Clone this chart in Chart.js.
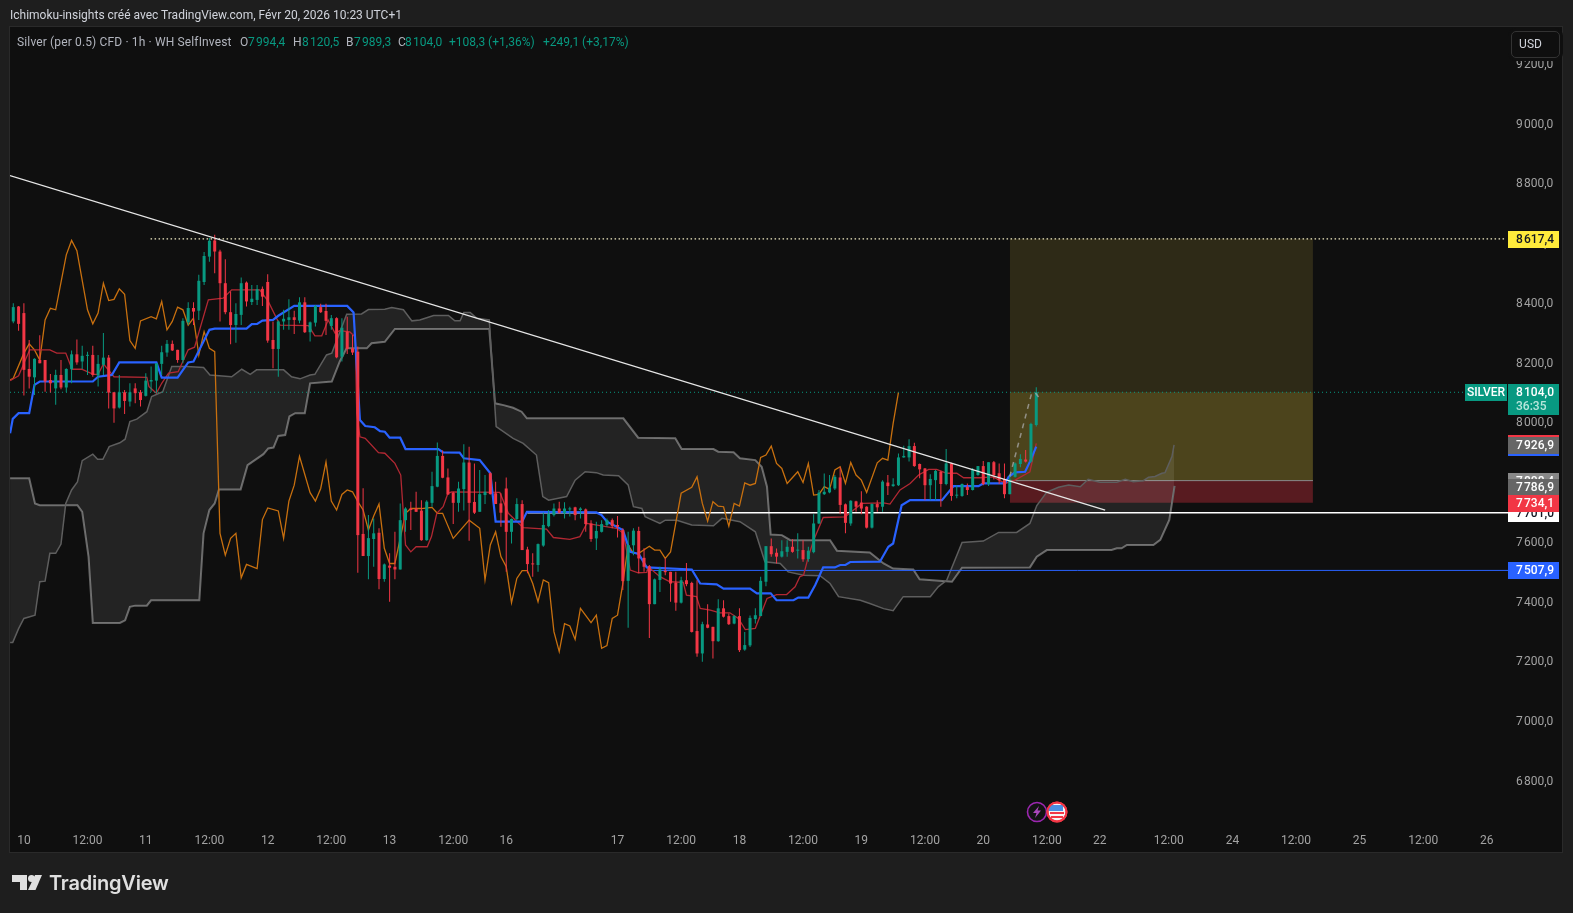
<!DOCTYPE html>
<html>
<head>
<meta charset="utf-8">
<title>Silver (per 0.5) CFD</title>
<script src="https://cdn.jsdelivr.net/npm/chart.js@4/dist/chart.umd.min.js"></script>
<style>
html, body { margin: 0; padding: 0; background: #1e1e1e; width: 1573px; height: 913px; overflow: hidden; }
canvas { position: absolute; left: 0; top: 0; }
.txt { position: absolute; white-space: nowrap; font: 12px Roboto, sans-serif; line-height: 16px; }
.g { color: #b2b5be; }
.v { color: #089981; }
#usd { position: absolute; left: 1511px; top: 31px; width: 37px; height: 25px; padding-right: 10px; border: 1px solid #333; border-radius: 5px; background: #0f0f0f; box-shadow: 0 0 0 3px #0f0f0f; color: #d1d4dc; font: 12px Roboto, sans-serif; line-height: 25px; text-align: center; }
#logo { position: absolute; left: 49px; top: 868px; color: #e0e0e0; font: 600 20px Inter, sans-serif; line-height: 30px; letter-spacing: -0.2px; }
svg { position: absolute; }
</style>
</head>
<body>
<canvas id="canvas" width="1573" height="913"></canvas>

<span class="txt" style="left:10px;top:7px;color:#d1d4dc">Ichimoku-insights créé avec TradingView.com, Févr 20, 2026 10:23 UTC+1</span>
<span class="txt g" style="left:17px;top:34px;letter-spacing:0.14px">Silver (per 0.5) CFD · 1h · WH SelfInvest</span>
<span class="txt g" style="left:240px;top:34px">O</span><span class="txt v" style="left:248px;top:34px">7&#8202;994,4</span>
<span class="txt g" style="left:293px;top:34px">H</span><span class="txt v" style="left:302px;top:34px">8&#8202;120,5</span>
<span class="txt g" style="left:346px;top:34px">B</span><span class="txt v" style="left:354px;top:34px">7&#8202;989,3</span>
<span class="txt g" style="left:398px;top:34px">C</span><span class="txt v" style="left:405px;top:34px">8&#8202;104,0</span>
<span class="txt v" style="left:449px;top:34px">+108,3 (+1,36%)</span>
<span class="txt v" style="left:543px;top:34px">+249,1 (+3,17%)</span>

<div id="usd">USD</div>

<svg style="left:12px;top:875px" width="30" height="15" viewBox="0 0 30 15">
  <polygon fill="#e0e0e0" points="0,0 15,0 15,15 8,15 8,7 0,7"/>
  <circle fill="#e0e0e0" cx="19.5" cy="3.5" r="3.5"/>
  <polygon fill="#e0e0e0" points="23,0 30,0 23.5,15 16,15"/>
</svg>
<div id="logo">TradingView</div>

<svg style="left:1025px;top:800px" width="44" height="24" viewBox="0 0 44 24">
  <circle cx="12" cy="12" r="9.5" fill="#131313" stroke="#9c27b0" stroke-width="1.6"/>
  <polygon fill="#ab47bc" points="14,6 8,13 11.5,13 10,18 16,10.5 12.5,10.5"/>
  <circle cx="32" cy="12" r="9.5" fill="#f5f5f5" stroke="#f23645" stroke-width="2"/>
  <rect x="25" y="12" width="14" height="2" fill="#f23645"/>
  <rect x="26" y="16" width="12" height="2" fill="#f23645"/>
  <path d="M24 5 h14 v6 h-15z" fill="#4a90e2"/>
  <circle cx="32" cy="12" r="9.5" fill="none" stroke="#f23645" stroke-width="2"/>
</svg>

<script>
// bougies 1h, index = numero de barre
const opens = [8341,8391,8369,8182,8154,8212,8212,8145,8117,8162,8120,8181,8231,8207,8226,8229,8160,8196,8220,8104,
  8053,8104,8073,8117,8104,8092,8140,8143,8199,8237,8266,8246,8212,8338,8386,8377,8473,8558,8612,8575,
  8469,8372,8329,8363,8471,8406,8413,8450,8473,8279,8249,8341,8346,8355,8344,8405,8305,8337,8389,8376,
  8326,8352,8223,8307,8251,8240,7630,7556,7613,7634,7479,7524,7520,7511,7676,7715,7715,7708,7609,7734,
  7788,7891,7819,7768,7734,7780,7869,7737,7704,7760,7833,7766,7732,7782,7637,7680,7730,7578,7531,7526,
  7591,7656,7693,7715,7699,7712,7719,7710,7712,7665,7615,7637,7660,7676,7660,7643,7473,7592,7640,7550,
  7522,7395,7476,7507,7503,7467,7400,7475,7466,7305,7230,7327,7319,7271,7381,7355,7330,7355,7243,7257,
  7345,7355,7470,7589,7567,7554,7570,7587,7574,7576,7546,7569,7665,7763,7769,7782,7819,7729,7665,7739,
  7735,7721,7651,7730,7721,7802,7790,7793,7886,7886,7924,7864,7849,7793,7810,7838,7797,7866,7758,7757,
  7788,7777,7827,7857,7797,7870,7833,7814,7763,7821,7864,7879,7872,7994.4];
const highs = [8402,8393,8402,8279,8218,8295,8212,8165,8179,8212,8184,8244,8281,8260,8240,8260,8229,8302,8229,8104,
  8162,8112,8134,8134,8112,8168,8190,8201,8260,8279,8277,8246,8352,8405,8405,8497,8573,8620,8631,8581,
  8549,8441,8402,8488,8475,8463,8463,8458,8499,8341,8344,8380,8415,8377,8422,8422,8341,8396,8400,8400,
  8363,8355,8352,8357,8296,8257,7783,7693,7682,7649,7531,7565,7637,7732,7719,7738,7771,7743,7743,7838,
  7936,7909,7849,7771,7805,7930,7922,7866,7844,7827,7836,7805,7766,7819,7682,7749,7743,7587,7565,7598,
  7702,7710,7732,7738,7736,7721,7721,7719,7715,7676,7671,7676,7682,7682,7690,7649,7637,7649,7654,7582,
  7526,7481,7520,7548,7503,7503,7487,7533,7470,7475,7336,7395,7319,7411,7408,7364,7358,7381,7302,7357,
  7381,7487,7589,7615,7581,7609,7609,7612,7632,7609,7587,7696,7777,7832,7827,7827,7853,7732,7743,7741,
  7773,7723,7732,7743,7810,7827,7816,7899,7925,7947,7935,7866,7851,7830,7844,7841,7914,7868,7793,7799,
  7799,7851,7857,7874,7870,7874,7866,7866,7829,7869,7897,7911,8002,8120.5];
const lows = [8335,8310,8093,8117,8095,8201,8106,8103,8062,8114,8104,8134,8196,8182,8162,8156,8123,8162,8050,8002,
  8050,8031,8056,8067,8056,8090,8106,8101,8162,8223,8242,8203,8201,8329,8329,8346,8463,8541,8502,8341,
  8365,8265,8270,8329,8391,8396,8396,8393,8270,8184,8156,8313,8313,8299,8335,8302,8274,8324,8369,8296,
  8313,8218,8207,8232,8229,7500,7556,7478,7520,7445,7470,7403,7478,7511,7637,7643,7704,7607,7607,7721,
  7786,7816,7760,7663,7704,7708,7607,7697,7704,7730,7762,7730,7654,7503,7598,7676,7576,7498,7487,7503,
  7587,7652,7688,7699,7682,7688,7676,7682,7637,7604,7576,7635,7654,7649,7618,7442,7316,7559,7498,7503,
  7282,7395,7436,7492,7403,7373,7397,7455,7300,7219,7202,7314,7213,7269,7350,7325,7328,7235,7239,7252,
  7330,7355,7455,7554,7531,7551,7554,7567,7548,7537,7537,7565,7663,7760,7766,7777,7696,7632,7657,7704,
  7696,7648,7648,7704,7704,7760,7788,7790,7885,7872,7855,7816,7743,7743,7743,7721,7793,7741,7749,7754,
  7760,7775,7825,7793,7790,7812,7797,7749,7763,7819,7853,7869,7869,7989.3];
const closes = [8389,8333,8179,8156,8216,8201,8140,8134,8162,8120,8182,8231,8204,8226,8229,8162,8199,8220,8103,8050,
  8104,8075,8104,8101,8078,8143,8145,8201,8238,8266,8244,8212,8343,8386,8374,8477,8560,8611,8575,8469,
  8372,8329,8366,8469,8408,8417,8449,8424,8277,8249,8341,8350,8355,8346,8405,8305,8338,8393,8372,8343,
  8352,8221,8320,8249,8237,7626,7556,7616,7632,7479,7528,7517,7511,7676,7715,7710,7704,7609,7738,7790,
  7891,7818,7762,7734,7782,7869,7734,7701,7763,7771,7763,7730,7701,7637,7680,7730,7576,7529,7528,7596,
  7660,7697,7715,7701,7715,7715,7693,7715,7663,7613,7640,7663,7676,7656,7654,7472,7593,7641,7548,7520,
  7395,7478,7511,7502,7464,7400,7475,7462,7302,7230,7328,7316,7271,7381,7353,7328,7355,7241,7258,7349,
  7358,7473,7589,7562,7554,7572,7587,7570,7576,7545,7574,7665,7768,7771,7785,7821,7727,7667,7741,7721,
  7715,7651,7730,7719,7805,7790,7796,7886,7891,7924,7857,7846,7793,7814,7841,7797,7866,7757,7760,7797,
  7777,7844,7857,7797,7870,7827,7810,7763,7812,7866,7881,7872,7998,8104];

// ichimoku : [barre, prix]
const kijun = [[-0.6,7967],[-0.1,8015],[1,8034],[3,8034],[4,8129],[5,8140],[15,8140],[16,8156],[18.6,8162],[20,8204],[27,8204],[28,8153],[31,8153],[33,8204],[34,8207],[37,8313],[38,8317],[44,8317],[45,8332],[46,8333],[47,8344],[49,8346],[50,8360],[53,8393],[63,8393],[64.2,8371],[65.4,8011],[66.4,7991],[68.2,7987],[69.2,7974],[70.1,7972],[71,7952],[73,7952],[74,7914],[80.2,7914],[81.1,7903],[84.2,7902],[85,7883],[88,7877],[90,7833],[91,7671],[96,7671],[96.9,7704],[110,7702],[111,7693],[112,7671],[115,7643],[116.4,7570],[118,7563],[119.5,7518],[128,7511],[129.6,7464],[132.7,7461],[134,7447],[139,7447],[140.3,7431],[142.9,7431],[144,7408],[147.2,7408],[148.1,7417],[150,7417],[151.3,7459],[152.8,7518],[155,7518],[156,7526],[157,7526],[157.9,7536],[163.5,7537],[165.1,7587],[166,7598],[167.6,7726],[169.2,7743],[175.2,7743],[177.4,7790],[182.1,7790],[183,7799],[187.1,7799],[187.8,7821],[189,7836],[190.9,7838],[191.8,7872],[193,7922]];
const tenkan = [[-0.6,8143],[1,8159],[3.1,8246],[6.9,8246],[8.2,8235],[9.9,8235],[11.1,8181],[12.9,8181],[15.1,8164],[16,8164],[17,8199],[19,8156],[25.2,8154],[25.6,8123],[27,8101],[28,8134],[29.3,8168],[31.1,8173],[33,8246],[34.2,8255],[36.8,8413],[39.6,8419],[41.2,8447],[46.5,8447],[48.1,8408],[50.3,8329],[55.7,8327],[56.9,8293],[58.2,8293],[59.4,8346],[60.7,8302],[61.6,8310],[63.5,8306],[64.5,8290],[64.8,8034],[65.4,7955],[66.4,7950],[68.9,7902],[70.1,7900],[72,7866],[73.1,7827],[74,7593],[75,7570],[76,7587],[78.1,7587],[78.9,7621],[79.9,7699],[81.1,7721],[82,7766],[82.7,7771],[91.8,7769],[93.4,7699],[96.2,7651],[100.6,7646],[101.9,7618],[105,7612],[106.9,7621],[108.2,7665],[113.8,7649],[115.1,7632],[116.4,7509],[117.9,7500],[119.5,7501],[119.8,7520],[122,7487],[123.9,7470],[126.4,7468],[127,7425],[128.9,7420],[129.6,7381],[131.5,7375],[133.3,7366],[135.2,7366],[136.8,7347],[138.1,7310],[140,7314],[141.2,7369],[142.2,7414],[144,7427],[145.9,7427],[147.5,7453],[148.4,7487],[149.1,7492],[150,7554],[151,7609],[152.8,7685],[156.9,7687],[160.1,7732],[164.2,7734],[165.4,7730],[167.3,7777],[169.2,7799],[170.8,7827],[172.7,7846],[174.2,7846],[176.1,7833],[178,7833],[179.3,7818],[182.4,7818],[184.9,7821],[187.1,7799],[189,7810],[191.8,7838],[193,7933]];
const chikou = [[-0.6,8145],[0,8151],[2,8235],[3,8266],[4,8246],[5,8212],[6,8346],[7,8385],[8,8380],[10,8564],[11,8612],[12,8578],[14,8380],[15,8333],[16,8369],[17,8469],[18,8411],[19,8415],[20,8450],[21,8432],[22,8277],[23,8251],[24,8343],[26,8357],[27,8350],[28,8408],[29,8313],[30,8341],[31,8389],[32,8380],[33,8329],[34,8352],[35,8229],[36,8307],[37,8251],[38,8240],[39,7632],[40,7559],[41,7615],[42,7632],[43,7483],[44,7528],[46,7514],[47,7678],[48,7717],[50,7707],[51,7615],[52,7740],[53,7793],[54,7890],[56,7768],[57,7740],[58,7782],[59,7871],[60,7740],[61,7710],[62,7762],[63,7777],[64,7771],[65,7738],[66,7710],[67,7643],[68,7690],[69,7730],[70,7582],[71,7531],[72,7531],[74,7699],[75,7715],[77,7715],[79,7719],[80,7699],[81,7699],[83,7615],[86,7676],[88,7649],[89,7476],[90,7593],[91,7637],[92,7554],[93,7520],[94,7400],[95,7481],[96,7507],[97,7507],[98,7464],[99,7403],[100,7476],[101,7467],[102,7303],[103,7236],[104,7330],[105,7322],[106,7277],[107,7381],[109,7333],[110,7358],[111,7247],[112,7256],[113,7347],[114,7358],[115,7464],[116,7593],[117,7565],[118,7565],[120,7589],[121,7576],[122,7576],[123,7548],[124,7570],[126,7766],[128,7786],[129,7821],[130,7732],[131,7673],[132,7738],[133,7723],[134,7721],[135,7656],[136,7732],[137,7723],[138,7801],[139,7793],[140,7799],[141,7886],[142,7894],[143,7924],[144,7866],[145,7849],[146,7799],[148,7838],[149,7802],[150,7866],[151,7760],[152,7762],[153,7788],[154,7779],[155,7844],[156,7855],[157,7799],[158,7869],[159,7827],[160,7810],[161,7769],[163,7868],[164,7883],[165,7877],[166,8000],[167,8104]];
const senkouA = [[-0.6,7267],[-0.1,7267],[1,7313],[2,7347],[4.1,7358],[5,7470],[6,7472],[6.9,7565],[8,7565],[9,7596],[9.9,7732],[11,7777],[12.1,7804],[13,7875],[15,7897],[15.9,7880],[16.9,7880],[18.1,7922],[20.1,7935],[21.1,7947],[22,8006],[23.3,8014],[25.2,8039],[26.1,8090],[28.2,8106],[29.9,8190],[32.7,8190],[35.9,8187],[37.1,8162],[41.2,8156],[43.1,8181],[44.7,8164],[45.9,8179],[51,8179],[52.5,8156],[54.1,8149],[56,8162],[56.9,8164],[59.1,8229],[60.1,8235],[62.9,8365],[65.7,8366],[67,8381],[70.1,8382],[71.4,8388],[73.6,8380],[75.2,8343],[76.7,8346],[79.3,8361],[82.1,8361],[83.3,8343],[84.3,8343],[85,8371],[86.2,8371],[87.4,8352],[89.8,8346],[91.1,7989],[94.3,7950],[96.2,7933],[98.7,7894],[99.9,7755],[101,7743],[104.4,7755],[106,7810],[107.9,7838],[110,7835],[111.3,7827],[114.2,7825],[116,7794],[117,7721],[118.6,7715],[119.2,7688],[122,7665],[123,7676],[125.2,7676],[128,7660],[132.1,7657],[133.7,7682],[137.1,7671],[140,7637],[141.8,7537],[144.7,7531],[146.2,7503],[149.1,7492],[152.2,7490],[154.1,7464],[155.7,7420],[159.8,7408],[161.6,7397],[164.2,7380],[166,7373],[167.9,7420],[173,7420],[174.5,7453],[176.1,7475],[179,7601],[183,7606],[185.9,7635],[189.3,7635],[191.8,7665],[193.1,7725],[195,7770],[197.2,7786],[199.1,7794],[201.3,7788],[202.8,7813],[205,7803],[208.2,7803],[209.8,7813],[211.3,7805],[213.2,7808],[214.2,7820],[215.4,7822],[216.7,7833],[217.3,7835],[218.6,7889],[219,7928]];
const senkouB = [[-0.6,7816],[3,7816],[4.1,7732],[5,7726],[12.1,7726],[13,7704],[14.2,7553],[15,7332],[20.1,7332],[21.1,7341],[22,7386],[23,7390],[25.2,7390],[26,7408],[35.1,7408],[35.9,7632],[37,7710],[38,7732],[38.8,7779],[42.9,7779],[44.2,7860],[47.2,7897],[48.1,7916],[49.1,7919],[50,7958],[51.3,7961],[52.1,8023],[53.2,8034],[55,8034],[56,8134],[60.1,8140],[61.6,8207],[62.9,8251],[66.7,8251],[67.6,8268],[70.1,8273],[72,8316],[89.8,8316],[90.9,8067],[92.5,8061],[94.3,8052],[95.9,8039],[96.9,8017],[115.1,8017],[117.9,7952],[124.9,7950],[126.1,7914],[132.1,7914],[133,7905],[135.9,7903],[137.1,7883],[140,7877],[141.2,7855],[142.2,7788],[142.9,7628],[145,7626],[146.6,7609],[154.1,7609],[155.4,7574],[161.6,7568],[164.2,7531],[166,7514],[169.8,7511],[171,7478],[177.1,7470],[179,7517],[191.8,7518],[193.1,7554],[195,7576],[207.2,7576],[208.2,7582],[209.1,7582],[210.1,7593],[215.1,7593],[216.4,7610],[218.1,7677],[218.6,7733],[219.1,7791]];

// dessins
const trendLine = [[-0.62,8829],[206,7710]];
const projection = [[188,7822],[192.1,8099],[192.8,8103],[193.6,8084]];
const boxStartBar = 188;
const boxEndBar = 245.2;
const targetPrice = 8617.4;
const lastPrice = 8104;
const entryPrice = 7808.4;
const stopPrice = 7734.1;
const supportWhite = 7701;
const supportBlue = 7507.9;

// axes
const xTickBars = [2,14,25,37,48,60,71,83,93,114,126,137,149,160,172,183,195,205,218,230,242,254,266,278];
const xTickLabels = ['10','12:00','11','12:00','12','12:00','13','12:00','16','17','12:00','18','12:00','19','12:00','20','12:00','22','12:00','24','12:00','25','12:00','26'];
const yTickValues = [6800,7000,7200,7400,7600,7800,8000,8200,8400,8600,8800,9000,9200];
const levelValues = [targetPrice, entryPrice, supportWhite, lastPrice, 7926.9, 7786.9, stopPrice, supportBlue];

const VERT = '#089981';
const ROUGE = '#f23645';
const BLEU = '#2962ff';

function prix(v) {
    let s = v.toFixed(1).replace('.', ',');
    return s[0] + '\u200a' + s.slice(1);
}

function pts(arr) {
    return arr.map(p => ({x: p[0], y: p[1]}));
}

function ligne(data, couleur, largeur, ordre, extra) {
    return Object.assign({
        type: 'line',
        data: pts(data),
        borderColor: couleur,
        borderWidth: largeur,
        pointRadius: 0,
        tension: 0,
        fill: false,
        order: ordre
    }, extra || {});
}

function zone(haut, bas, couleur, ordre) {
    return {
        type: 'line',
        data: pts([[boxStartBar, haut], [boxEndBar, haut]]),
        borderWidth: 0,
        borderColor: 'transparent',
        backgroundColor: couleur,
        pointRadius: 0,
        fill: {value: bas},
        order: ordre
    };
}

const fondPlugin = {
    id: 'fond',
    beforeDraw(chart) {
        let c = chart.ctx;
        c.save();
        c.fillStyle = '#2a2a2a';
        c.fillRect(9, 26, 1554, 827);
        c.fillStyle = '#0f0f0f';
        c.fillRect(10, 27, 1552, 825);
        c.restore();
    }
};

// etiquettes de prix sur l'echelle
const etiquettesPlugin = {
    id: 'etiquettes',
    afterDraw(chart) {
        let c = chart.ctx;
        let y = chart.scales.y;
        let styles = [
            ['#ffeb3b', '#131722'], ['#888888', '#ffffff'], ['#ffffff', '#131722'], [VERT, '#ffffff'],
            ['#666666', '#ffffff'], ['#666666', '#ffffff'], [ROUGE, '#ffffff'], [BLEU, '#ffffff']
        ];
        c.save();
        c.font = '500 12px Roboto, sans-serif';
        c.textBaseline = 'middle';
        levelValues.forEach(function (v, i) {
            let py = Math.round(y.getPixelForValue(v));
            let haut = v === lastPrice ? 31 : 17;
            c.fillStyle = styles[i][0];
            c.fillRect(1508, py - 8, 51, haut);
            if (v === 7926.9) {
                c.fillRect(1508, py - 10, 51, 21);
                c.fillStyle = ROUGE;
                c.fillRect(1508, py - 10, 51, 2);
                c.fillStyle = BLEU;
                c.fillRect(1508, py + 9, 51, 2);
            }
            c.fillStyle = styles[i][1];
            c.textAlign = 'left';
            c.fillText(prix(v), 1516, py + 1);
            if (v === lastPrice) {
                c.fillStyle = '#b8e6dc';
                c.fillText('36:35', 1516, py + 15);
                c.fillStyle = VERT;
                c.fillRect(1465, py - 8, 42, 17);
                c.fillStyle = '#ffffff';
                c.textAlign = 'center';
                c.fillText('SILVER', 1486, py + 1);
            }
        });
        c.restore();
    }
};

const bars = opens.map((o, i) => i);

new Chart(document.getElementById('canvas').getContext('2d'), {
    type: 'bar',
    data: {
        datasets: [
            {
                type: 'bar',
                data: bars.map(i => ({x: i, y: [opens[i], closes[i]]})),
                backgroundColor: bars.map(i => closes[i] >= opens[i] ? VERT : ROUGE),
                barThickness: 3,
                minBarLength: 1,
                inflateAmount: 0,
                grouped: false,
                order: 2
            },
            {
                type: 'bar',
                data: bars.map(i => ({x: i, y: [lows[i], highs[i]]})),
                backgroundColor: bars.map(i => closes[i] >= opens[i] ? VERT : ROUGE),
                barThickness: 1,
                inflateAmount: 0,
                grouped: false,
                order: 3
            },
            ligne(trendLine, '#e6e6e6', 1.3, 1),
            ligne(projection, 'rgba(170,170,170,0.75)', 1.5, 1, {borderDash: [5, 5]}),
            ligne([[-0.62, lastPrice], [273.9, lastPrice]], VERT, 1, 4, {borderDash: [1, 3]}),
            ligne([[25.9, targetPrice], [281.6, targetPrice]], '#f5f0c8', 1.2, 4, {borderDash: [1.5, 2.5]}),
            ligne([[97, supportWhite], [282, supportWhite]], '#ffffff', 1.5, 8),
            ligne([[119.5, supportBlue], [282, supportBlue]], BLEU, 1, 8),
            ligne(kijun, BLEU, 2.2, 5),
            ligne(tenkan, '#b22833', 1.3, 6),
            ligne(chikou, '#c8700f', 1.3, 7),
            ligne(senkouA, '#5e5e5e', 1.5, 10, {fill: '+1', backgroundColor: 'rgba(255,255,255,0.085)'}),
            ligne(senkouB, '#666666', 2, 11),
            ligne([[boxStartBar, entryPrice], [boxEndBar, entryPrice]], '#8a8a8a', 1, 12),
            zone(targetPrice, lastPrice, 'rgba(240,212,75,0.14)', 20),
            zone(lastPrice, entryPrice, 'rgba(245,215,67,0.27)', 20),
            zone(entryPrice, stopPrice, 'rgba(242,54,69,0.32)', 20)
        ]
    },
    options: {
        responsive: false,
        animation: false,
        layout: {padding: {left: 10, top: 28, right: 0, bottom: 0}},
        plugins: {legend: {display: false}, tooltip: {enabled: false}, title: {display: false}},
        scales: {
            x: {
                type: 'linear',
                offset: false,
                min: -0.62,
                max: 282,
                grid: {display: false, offset: false},
                border: {display: false},
                afterBuildTicks: function (axis) {
                    axis.ticks = xTickBars.map(b => ({value: b}));
                },
                afterFit: function (axis) {
                    axis.height = 87;
                },
                ticks: {
                    autoSkip: false,
                    maxRotation: 0,
                    padding: 0,
                    color: '#a3a3a3',
                    font: {family: 'Roboto, sans-serif', size: 12},
                    callback: function (v) {
                        return xTickLabels[xTickBars.indexOf(v)];
                    }
                }
            },
            y: {
                type: 'linear',
                position: 'right',
                min: 6652.6,
                max: 9323,
                grid: {display: false},
                border: {display: false},
                afterBuildTicks: function (axis) {
                    axis.ticks = yTickValues.map(v => ({value: v}));
                },
                afterFit: function (axis) {
                    axis.width = 65;
                },
                ticks: {
                    autoSkip: false,
                    padding: 0,
                    color: '#a3a3a3',
                    font: {family: 'Roboto, sans-serif', size: 12},
                    callback: function (v) {
                        return prix(v);
                    }
                }
            }
        }
    },
    plugins: [fondPlugin, etiquettesPlugin]
});
</script>
</body>
</html>
